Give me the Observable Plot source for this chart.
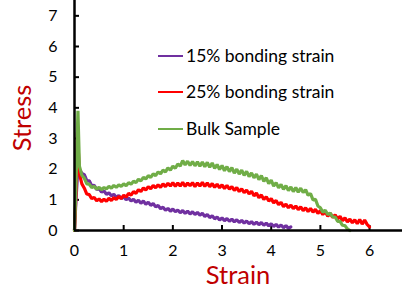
<!DOCTYPE html>
<html><head><meta charset="utf-8">
<script src="https://cdn.jsdelivr.net/npm/d3@7"></script>
<script src="https://cdn.jsdelivr.net/npm/@observablehq/plot@0.6"></script>
<style>
html,body{margin:0;padding:0;background:#fff;}
#wrap{position:relative;width:402px;height:294px;overflow:hidden;font-family:Lato,"Liberation Sans",sans-serif;}
#wrap svg{position:absolute;left:0;top:0;}
.lab{position:absolute;color:#c00000;font-size:25.5px;line-height:1;white-space:nowrap;}
.leg{position:absolute;left:158px;font-size:17.5px;line-height:1.2;color:#000;white-space:nowrap;display:flex;align-items:center;}
.leg span.sw{display:inline-block;width:25px;height:2px;margin-right:3px;}
</style></head>
<body><div id="wrap"></div>
<script>
const xTicks = [0, 1, 2, 3, 4, 5, 6];
const yTicks = [0, 1, 2, 3, 4, 5, 6, 7];
const seriesNames = ["15% bonding strain", "25% bonding strain", "Bulk Sample"];
const seriesColors = ["#7030a0", "#ff0000", "#70ad47"];

// shared strain grid (after the initial spike)
const strainGrid = [0.10,0.15,0.20,0.25,0.30,0.35,0.40,0.45,0.50,0.55,0.60,0.65,0.70,0.75,0.80,0.85,0.90,0.95,
1.00,1.05,1.10,1.15,1.20,1.25,1.30,1.35,1.40,1.45,1.50,1.55,1.60,1.65,1.70,1.75,1.80,1.85,1.90,1.95,
2.00,2.05,2.10,2.15,2.20,2.25,2.30,2.35,2.40,2.45,2.50,2.55,2.60,2.65,2.70,2.75,2.80,2.85,2.90,2.95,
3.00,3.05,3.10,3.15,3.20,3.25,3.30,3.35,3.40,3.45,3.50,3.55,3.60,3.65,3.70,3.75,3.80,3.85,3.90,3.95,
4.00,4.05,4.10,4.15,4.20,4.25,4.30,4.35,4.40,4.45,4.50,4.55,4.60,4.65,4.70,4.75,4.80,4.85,4.90,4.95,
5.00,5.05,5.10,5.15,5.20,5.25,5.30,5.35,5.40,5.45,5.50,5.55,5.60,5.65,5.70,5.75,5.80,5.85,5.90,5.95,6.00];

// initial loading spike
const spikeStrain15 = [0.00, 0.03, 0.07];
const spikeStress15 = [0.00, 1.00, 2.05];
const spikeStrain25 = [0.00, 0.03, 0.06];
const spikeStress25 = [0.00, 1.20, 3.20];
const spikeStrainBulk = [0.00, 0.03, 0.07];
const spikeStressBulk = [0.00, 1.50, 3.90];

// stress on strainGrid
const stress15 = [2.00,1.86,1.82,1.63,1.62,1.46,1.47,1.34,1.37,1.25,1.29,1.18,1.23,1.13,1.18,1.08,1.14,1.04,
1.10,1.00,1.06,0.96,1.02,0.92,0.99,0.89,0.96,0.86,0.92,0.82,0.88,0.77,0.82,0.71,0.76,0.66,0.72,0.63,
0.70,0.61,0.67,0.58,0.65,0.56,0.63,0.54,0.61,0.52,0.59,0.50,0.56,0.46,0.52,0.42,0.48,0.38,0.44,0.34,
0.41,0.32,0.39,0.30,0.37,0.28,0.35,0.26,0.33,0.24,0.31,0.22,0.29,0.20,0.27,0.19,0.26,0.17,0.24,0.15,
0.22,0.13,0.20,0.11,0.18,0.09,0.16,0.07,0.12];

const stress25 = [1.85,1.52,1.38,1.19,1.17,1.04,1.08,0.97,1.03,0.94,1.02,0.95,1.05,0.98,1.07,1.01,1.11,1.04,
1.15,1.09,1.21,1.15,1.27,1.21,1.33,1.27,1.39,1.32,1.43,1.36,1.47,1.39,1.49,1.41,1.52,1.43,1.54,1.45,
1.56,1.44,1.55,1.45,1.57,1.44,1.55,1.46,1.56,1.43,1.55,1.45,1.57,1.44,1.55,1.43,1.53,1.41,1.51,1.39,
1.49,1.37,1.47,1.35,1.43,1.31,1.40,1.27,1.36,1.23,1.32,1.19,1.28,1.13,1.22,1.07,1.16,1.01,1.10,0.96,
1.04,0.90,0.98,0.84,0.92,0.78,0.86,0.74,0.83,0.71,0.80,0.68,0.77,0.65,0.74,0.62,0.72,0.60,0.69,0.56,
0.65,0.52,0.61,0.47,0.56,0.43,0.51,0.38,0.46,0.32,0.41,0.28,0.37,0.25,0.35,0.22,0.36,0.21,0.34,0.20,0.12];

const stressBulk = [2.10,1.80,1.70,1.52,1.51,1.40,1.44,1.35,1.41,1.33,1.40,1.36,1.44,1.38,1.47,1.41,1.49,1.44,
1.52,1.46,1.56,1.51,1.61,1.56,1.67,1.62,1.73,1.68,1.79,1.73,1.85,1.79,1.91,1.85,1.97,1.91,2.04,1.97,
2.10,2.03,2.17,2.10,2.28,2.14,2.26,2.12,2.25,2.11,2.24,2.10,2.23,2.08,2.22,2.06,2.20,2.03,2.15,1.99,
2.12,1.95,2.08,1.92,2.05,1.87,2.00,1.84,1.97,1.80,1.93,1.76,1.88,1.72,1.84,1.66,1.79,1.60,1.72,1.53,
1.64,1.45,1.56,1.39,1.50,1.34,1.46,1.30,1.42,1.27,1.40,1.25,1.38,1.24,1.33,1.15,1.20,1.00,1.02,0.80,
0.74,0.60,0.66,0.52,0.57,0.44,0.44,0.30,0.30,0.17,0.16,0.05,0.00];

function build(name, sx, sy, ys) {
  const rows = sx.map((x, i) => ({series: name, strain: x, stress: sy[i]}));
  ys.forEach((y, i) => rows.push({series: name, strain: strainGrid[i], stress: y}));
  return rows;
}
const d15 = build(seriesNames[0], spikeStrain15, spikeStress15, stress15);
const d25 = build(seriesNames[1], spikeStrain25, spikeStress25, stress25);
const dBulk = build(seriesNames[2], spikeStrainBulk, spikeStressBulk, stressBulk);

const chart = Plot.plot({
  width: 402, height: 294,
  marginLeft: 74, marginRight: 0, marginTop: 0, marginBottom: 64,
  style: {fontFamily: "Lato, 'Liberation Sans', sans-serif", fontSize: "16px", color: "#000", background: "transparent"},
  x: {domain: [0, 6.67]},
  y: {domain: [0, 7.5]},
  marks: [
    Plot.axisY({ticks: yTicks, tickSize: -5, tickPadding: 22, tickFormat: d => d, label: null, strokeWidth: 2}),
    Plot.axisX({ticks: xTicks, tickSize: -5, tickPadding: 19, tickFormat: d => d, label: null, strokeWidth: 2}),
    Plot.line(d15, {x: "strain", y: "stress", stroke: seriesColors[0], strokeWidth: 3.2, strokeLinejoin: "miter", curve: "linear"}),
    Plot.line(d25, {x: "strain", y: "stress", stroke: seriesColors[1], strokeWidth: 3.2, strokeLinejoin: "miter", curve: "linear"}),
    Plot.line(dBulk, {x: "strain", y: "stress", stroke: seriesColors[2], strokeWidth: 3.2, strokeLinejoin: "miter", curve: "linear"}),
    Plot.ruleX([0], {stroke: "#000", strokeWidth: 2.5}),
    Plot.ruleY([0], {stroke: "#000", strokeWidth: 2.5})
  ]
});
const wrap = document.getElementById("wrap");
wrap.appendChild(chart);

const legTops = [56, 92, 129];
seriesNames.forEach((n, i) => {
  const d = document.createElement("div");
  d.className = "leg";
  d.style.top = (legTops[i] - 11) + "px";
  d.innerHTML = `<span class="sw" style="background:${seriesColors[i]}"></span><span>${n}</span>`;
  wrap.appendChild(d);
});
const sL = document.createElement("div");
sL.className = "lab"; sL.textContent = "Stress";
sL.style.left = "22px"; sL.style.top = "118px";
sL.style.transform = "translate(-50%,-50%) rotate(-90deg)";
wrap.appendChild(sL);
const xL = document.createElement("div");
xL.className = "lab"; xL.textContent = "Strain";
xL.style.left = "238px"; xL.style.top = "275px";
xL.style.transform = "translate(-50%,-50%)";
wrap.appendChild(xL);
</script></body></html>
